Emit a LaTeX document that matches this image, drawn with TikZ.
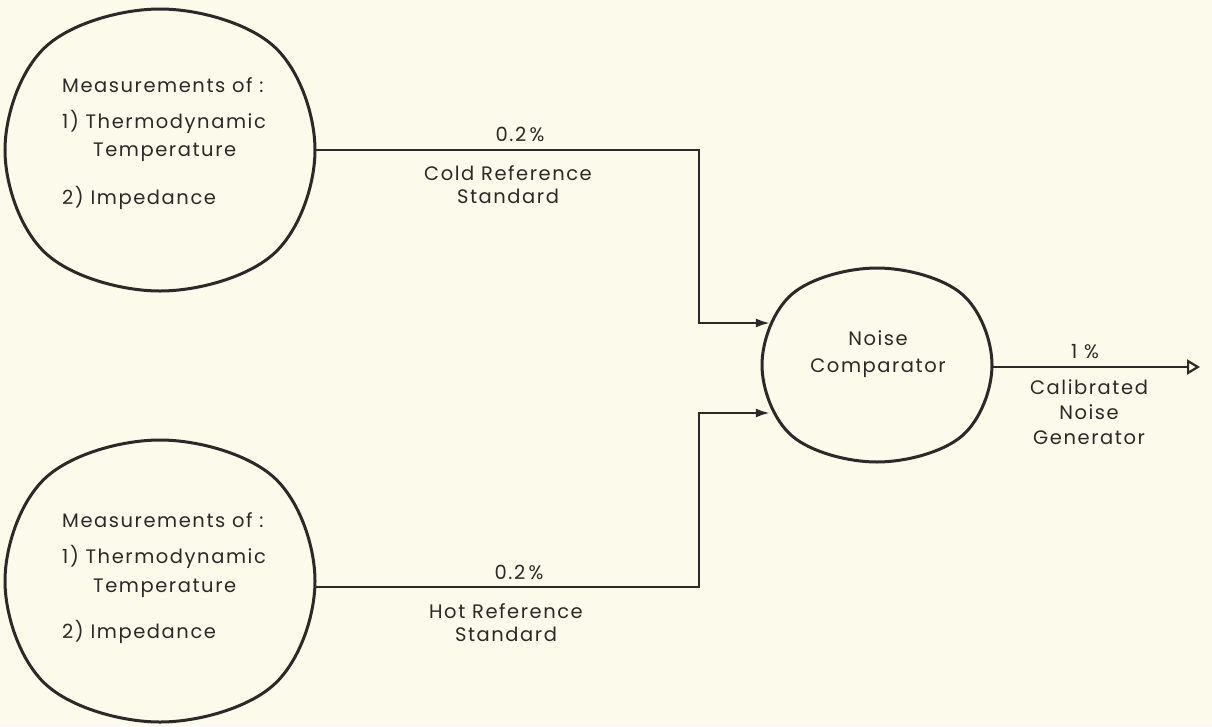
\documentclass[tikz,border=0pt]{standalone}
\usepackage{fontspec}
\setmainfont{Poppins}[LetterSpace=8]
\usetikzlibrary{shapes.geometric,arrows.meta}
\definecolor{paper}{HTML}{FCFAEB}
\definecolor{ink}{HTML}{2E2828}
\newcommand\softoval[3]{\draw[ovalline,shift={(#1)}] plot[smooth cycle,tension=0.6] coordinates {(#2,0) ({0.735*#2},{0.735*#3}) (0,#3) ({-0.735*#2},{0.735*#3}) (-#2,0) ({-0.735*#2},{-0.735*#3}) (0,-#3) ({0.735*#2},{-0.735*#3})};}
\begin{document}
\begin{tikzpicture}[x=1pt,y=-1pt,
  bubble/.style={ellipse,inner sep=0pt},
  ovalline/.style={draw=ink,line width=3pt},
  lbl/.style={text=ink,font=\fontsize{19.5}{23}\selectfont,inner sep=0pt,align=center},
  ltxt/.style={text=ink,font=\fontsize{19.5}{23}\selectfont,inner sep=0pt,anchor=west},
  wire/.style={draw=ink,line width=2.2pt},
  inarrow/.style={wire,-{Latex[length=14pt,width=9pt]}},
  outarrow/.style={wire,-{Triangle[open,length=13pt,width=15pt,line width=2.2pt]}}]
\fill[paper] (0,0) rectangle (1212,726);
\useasboundingbox (0,0) rectangle (1212,726);
% bubbles
\node[bubble,minimum width=310pt,minimum height=282pt] (m1) at (160,150) {};
\node[bubble,minimum width=310pt,minimum height=282pt] (m2) at (160,581) {};
\node[bubble,minimum width=230pt,minimum height=194pt] (nc) at (877,365) {};
\softoval{m1.center}{155}{141}
\softoval{m2.center}{155}{141}
\softoval{nc.center}{115}{97}
% texts in bubbles
\node[ltxt] (m1a) at (62,85) {Measurements of :};
\node[ltxt] (m1b) at (62,122) {1) Thermodynamic};
\node[ltxt] (m1c) at (93,152) {Temperature};
\node[ltxt] (m1d) at (62,198) {2) Impedance};
\node[ltxt] (m2a) at (62,520) {Measurements of :};
\node[ltxt] (m2b) at (62,557) {1) Thermodynamic};
\node[ltxt] (m2c) at (93,588) {Temperature};
\node[ltxt] (m2d) at (62,632) {2) Impedance};
\node[lbl] (nct) at (878,354) {Noise\\[4pt]Comparator};
% connectors
\coordinate (j1) at (699,150);
\coordinate (j2) at (699,587);
\coordinate (out) at (1200,367);
\draw[inarrow] (m1.east) -- (j1) |- ([xshift=8pt,yshift=42pt]nc.west);
\draw[inarrow] (m2.east |- j2) -- (j2) |- ([xshift=8pt,yshift=-48pt]nc.west);
\draw[outarrow] (nc.east |- out) -- (out);
% labels
\node[lbl] (p1) at (520,134) {0.2\,\%};
\node[lbl] (c1) at (508,185) {Cold Reference\\[0pt]Standard};
\node[lbl] (p2) at (519,572) {0.2\,\%};
\node[lbl] (c2) at (506,623) {Hot Reference\\[0pt]Standard};
\node[lbl] (p3) at (1085,352) {1 \%};
\node[lbl] (c3) at (1089,412) {Calibrated\\[2pt]Noise\\[2pt]Generator};
\end{tikzpicture}
\end{document}
